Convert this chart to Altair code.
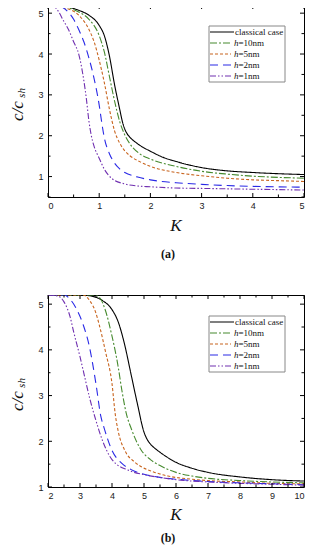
import altair as alt
import pandas as pd

series = ["classical case", "h=10nm", "h=5nm", "h=2nm", "h=1nm"]
colors = ["#000000", "#468a2e", "#c8641e", "#2a2ae6", "#7030b0"]
dashes = [[1, 0], [7, 2, 2, 2], [3, 2], [8, 5], [6, 2, 1.5, 2, 1.5, 2]]

# ---- panel (a) ----
a_K = {
    "classical case": [0, 0.3, 0.6, 0.8, 1.0, 1.1, 1.2, 1.3, 1.4, 1.45, 1.5, 1.55, 1.6, 1.7, 1.8, 2.0, 2.25, 2.5, 3.0, 3.5, 4.0, 4.5, 5.0],
    "h=10nm": [0, 0.3, 0.6, 0.8, 1.0, 1.1, 1.2, 1.3, 1.4, 1.5, 1.6, 1.8, 2.0, 2.5, 3.0, 3.5, 4.0, 4.5, 5.0],
    "h=5nm": [0, 0.3, 0.6, 0.8, 0.9, 1.0, 1.1, 1.2, 1.3, 1.4, 1.5, 1.6, 1.8, 2.0, 2.5, 3.0, 3.5, 4.0, 4.5, 5.0],
    "h=2nm": [0, 0.2, 0.4, 0.5, 0.6, 0.7, 0.8, 0.9, 1.0, 1.05, 1.1, 1.2, 1.3, 1.4, 1.5, 1.75, 2.0, 2.5, 3.0, 3.5, 4.0, 5.0],
    "h=1nm": [0, 0.1, 0.2, 0.3, 0.4, 0.5, 0.6, 0.7, 0.75, 0.8, 0.85, 0.9, 1.0, 1.1, 1.25, 1.5, 1.75, 2.0, 2.5, 3.0, 4.0, 5.0],
}
a_v = {
    "classical case": [5.2, 5.17, 5.07, 4.95, 4.7, 4.45, 3.95, 3.25, 2.65, 2.36, 2.16, 2.04, 1.96, 1.85, 1.76, 1.62, 1.47, 1.37, 1.22, 1.14, 1.1, 1.07, 1.05],
    "h=10nm": [5.2, 5.16, 5.03, 4.85, 4.45, 4.05, 3.45, 2.85, 2.35, 2.02, 1.8, 1.55, 1.43, 1.25, 1.13, 1.06, 1.01, 0.98, 0.96],
    "h=5nm": [5.2, 5.14, 4.95, 4.6, 4.3, 3.85, 3.3, 2.65, 2.12, 1.82, 1.63, 1.51, 1.36, 1.25, 1.1, 1.02, 0.96, 0.92, 0.9, 0.88],
    "h=2nm": [5.2, 5.18, 5.02, 4.85, 4.6, 4.3, 3.9, 3.4, 2.75, 2.32, 1.95, 1.56, 1.33, 1.19, 1.1, 0.99, 0.92, 0.85, 0.81, 0.78, 0.76, 0.74],
    "h=1nm": [5.2, 5.18, 5.05, 4.82, 4.6, 4.3, 4.0, 3.35, 2.9, 2.35, 1.98, 1.74, 1.45, 1.18, 0.95, 0.82, 0.77, 0.75, 0.72, 0.71, 0.69, 0.67],
}

# ---- panel (b) ----
b_K = {
    "classical case": [2, 3.0, 3.4, 3.7, 4.0, 4.2, 4.4, 4.6, 4.8, 5.0, 5.1, 5.2, 5.35, 5.5, 6.0, 6.5, 7.0, 8.0, 9.0, 10],
    "h=10nm": [2, 3.4, 3.6, 3.8, 4.0, 4.1, 4.2, 4.3, 4.45, 4.6, 4.9, 5.2, 5.5, 6.0, 6.5, 7.0, 8.0, 9.0, 10],
    "h=5nm": [2, 3.1, 3.3, 3.5, 3.6, 3.8, 4.0, 4.1, 4.2, 4.4, 4.7, 4.9, 5.3, 5.75, 6.5, 7.0, 8.0, 9.0, 10],
    "h=2nm": [2, 2.5, 2.7, 2.9, 3.1, 3.3, 3.5, 3.65, 3.75, 4.0, 4.3, 4.6, 5.0, 5.5, 6.0, 7.0, 8.0, 9.0, 10],
    "h=1nm": [2, 2.3, 2.5, 2.7, 2.8, 3.0, 3.1, 3.3, 3.5, 3.7, 4.0, 4.5, 5.0, 5.5, 6.0, 7.0, 8.0, 9.0, 10],
}
b_v = {
    "classical case": [5.2, 5.2, 5.17, 5.08, 4.88, 4.6, 4.1, 3.45, 2.8, 2.2, 2.04, 1.94, 1.84, 1.76, 1.54, 1.41, 1.32, 1.22, 1.16, 1.13],
    "h=10nm": [5.2, 5.2, 5.15, 4.85, 4.3, 3.98, 3.6, 3.15, 2.6, 2.28, 1.82, 1.6, 1.47, 1.32, 1.24, 1.19, 1.14, 1.11, 1.09],
    "h=5nm": [5.2, 5.2, 5.08, 4.8, 4.55, 3.95, 3.26, 2.6, 2.2, 1.8, 1.55, 1.45, 1.33, 1.24, 1.17, 1.14, 1.11, 1.08, 1.07],
    "h=2nm": [5.2, 5.2, 5.1, 4.88, 4.55, 4.05, 3.25, 2.55, 2.3, 1.8, 1.52, 1.38, 1.28, 1.21, 1.17, 1.12, 1.09, 1.07, 1.05],
    "h=1nm": [5.2, 5.18, 5.05, 4.7, 4.4, 3.85, 3.55, 2.95, 2.45, 2.02, 1.6, 1.37, 1.27, 1.21, 1.16, 1.11, 1.08, 1.06, 1.04],
}

a_xmajor = [0, 1, 2, 3, 4, 5]
a_xminor = [0.5, 1.5, 2.5, 3.5, 4.5]
a_ymajor = [1, 2, 3, 4, 5]
a_yminor = [0.5, 1.5, 2.5, 3.5, 4.5]
b_xmajor = [2, 3, 4, 5, 6, 7, 8, 9, 10]
b_xminor = [2.5, 3.5, 4.5, 5.5, 6.5, 7.5, 8.5, 9.5]
b_ymajor = [1, 2, 3, 4, 5]
b_yminor = [1.5, 2.5, 3.5, 4.5]

W = 256
SERIF = "Liberation Serif"
SANS = "Liberation Sans"


def make_df(Kd, vd):
    rows = []
    for s in series:
        for k, v in zip(Kd[s], vd[s]):
            rows.append({"series": s, "K": k, "v": v})
    return pd.DataFrame(rows)


def one():
    return alt.Chart(pd.DataFrame({"a": [0]}))


def panel(Kd, vd, xdom, ydom, xmaj, xmin, ymaj, ymin, tag, H, ky, tagy):
    df = make_df(Kd, vd)
    xs = alt.Scale(domain=xdom, nice=False, zero=False)
    ys = alt.Scale(domain=ydom, nice=False, zero=False)
    ax = alt.Axis(values=xmaj, ticks=False, domain=False, grid=False, labelFont=SANS,
                  labelFontSize=9, labelColor="#222", labelPadding=4, title=None, format="d")
    ay = alt.Axis(values=ymaj, ticks=False, domain=False, grid=False, labelFont=SANS,
                  labelFontSize=9, labelColor="#222", labelPadding=5, title=None, format="d")
    layers = []
    lines = alt.Chart(df).mark_line(clip=True, strokeWidth=1.1, interpolate="monotone").encode(
        x=alt.X("K:Q", scale=xs, axis=ax),
        y=alt.Y("v:Q", scale=ys, axis=ay),
        color=alt.Color("series:N", scale=alt.Scale(domain=series, range=colors), legend=None),
        strokeDash=alt.StrokeDash("series:N", scale=alt.Scale(domain=series, range=dashes), legend=None),
        order=alt.Order("K:Q"),
    )
    layers.append(lines)
    # inward ticks
    for vals, ln in ((xmaj, 4), (xmin, 2.5)):
        tdf = pd.DataFrame({"K": vals})
        layers.append(alt.Chart(tdf).mark_rule(color="black", strokeWidth=1).encode(
            x=alt.X("K:Q", scale=xs, axis=ax), y=alt.value(H), y2=alt.value(H - ln)))
        layers.append(alt.Chart(tdf).mark_rule(color="black", strokeWidth=1).encode(
            x=alt.X("K:Q", scale=xs, axis=ax), y=alt.value(0), y2=alt.value(ln)))
    for vals, ln in ((ymaj, 4), (ymin, 2.5)):
        tdf = pd.DataFrame({"v": vals})
        layers.append(alt.Chart(tdf).mark_rule(color="black", strokeWidth=1).encode(
            y=alt.Y("v:Q", scale=ys, axis=ay), x=alt.value(0), x2=alt.value(ln)))
        layers.append(alt.Chart(tdf).mark_rule(color="black", strokeWidth=1).encode(
            y=alt.Y("v:Q", scale=ys, axis=ay), x=alt.value(W), x2=alt.value(W - ln)))
    # legend box
    bx0, bx1, by0 = 161, 237, 21
    layers.append(one().mark_rect(fill="white", stroke="#888", strokeWidth=1).encode(
        x=alt.value(bx0), x2=alt.value(bx1), y=alt.value(by0), y2=alt.value(by0 + 56)))
    for i, s in enumerate(series):
        yy = by0 + 6 + i * 11
        xend = bx0 + 25 if i == 0 else bx0 + 22
        layers.append(one().mark_rule(color=colors[i], strokeDash=dashes[i], strokeWidth=1.2).encode(
            x=alt.value(bx0 + 1), x2=alt.value(xend), y=alt.value(yy)))
        if i == 0:
            layers.append(one().mark_text(
                text=s, font=SERIF, fontSize=9, align="left", baseline="middle", color="#111").encode(
                x=alt.value(bx0 + 26), y=alt.value(yy)))
        else:
            layers.append(one().mark_text(
                text="h", font=SERIF, fontStyle="italic", fontSize=9, align="left",
                baseline="middle", color="#111").encode(x=alt.value(bx0 + 25), y=alt.value(yy)))
            layers.append(one().mark_text(
                text=s[1:], font=SERIF, fontSize=9, align="left", baseline="middle",
                color="#111").encode(x=alt.value(bx0 + 29.5), y=alt.value(yy)))
    # axis titles
    layers.append(one().mark_text(
        text="K", font=SERIF, fontStyle="italic", fontSize=17, align="center",
        baseline="middle", color="#111").encode(x=alt.value(W / 2), y=alt.value(H + ky)))
    layers.append(one().mark_text(
        text="c/c", font=SERIF, fontStyle="italic", fontSize=17, align="center",
        baseline="middle", angle=270, color="#111").encode(x=alt.value(-30), y=alt.value(H / 2 + 10)))
    layers.append(one().mark_text(
        text="sh", font=SERIF, fontStyle="italic", fontSize=11, align="center",
        baseline="middle", angle=270, color="#111").encode(x=alt.value(-26), y=alt.value(H / 2 - 8)))
    layers.append(one().mark_text(
        text=tag, font=SERIF, fontWeight="bold", fontSize=12, align="center",
        baseline="middle", color="#111").encode(x=alt.value(120), y=alt.value(H + tagy)))
    return alt.layer(*layers).properties(width=W, height=H)


pa = panel(a_K, a_v, [0, 5], [0.5, 5.2], a_xmajor, a_xminor, a_ymajor, a_yminor, "(a)", 192, 29, 57)
pb = panel(b_K, b_v, [2, 10], [1, 5.2], b_xmajor, b_xminor, b_ymajor, b_yminor, "(b)", 192, 28, 51)

chart = alt.vconcat(pa, pb, spacing=33).configure_view(
    stroke="black", strokeWidth=1).properties(
    padding={"left": 0, "top": -4, "right": 0, "bottom": 0}, background="white")

chart.save("out.html", embed_options={"renderer": "svg", "actions": False})
